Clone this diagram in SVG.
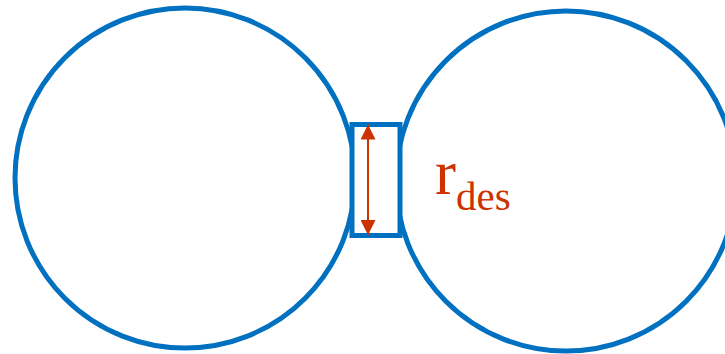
<svg xmlns="http://www.w3.org/2000/svg" width="725" height="354" viewBox="0 0 725 354">
<style>
.blue{fill:none;stroke:#0070C0;stroke-width:5}
.red{stroke:#CC3300;stroke-width:2;fill:none}
.lbl{font-family:"Liberation Serif","Times New Roman",serif;fill:#CC3300}
</style>
<defs>
<marker id="ah" viewBox="0 0 15 15" refX="15" refY="7.5" markerWidth="15" markerHeight="15" markerUnits="userSpaceOnUse" orient="auto-start-reverse">
<path d="M0,0 L15,7.5 L0,15 Z" fill="#CC3300"/>
</marker>
</defs>
<rect width="725" height="354" fill="#fff"/>
<g id="left-circle"><circle class="blue" cx="185" cy="178" r="170"/></g>
<g id="right-circle"><circle class="blue" cx="566" cy="181" r="170"/></g>
<g id="neck"><rect class="blue" x="352" y="124.5" width="48" height="111" style="fill:#fff"/></g>
<g id="connectors">
<line class="red" x1="368" y1="124.5" x2="368" y2="235" marker-start="url(#ah)" marker-end="url(#ah)"/>
</g>
<g id="label">
<text class="lbl" x="435" y="194" font-size="63">r<tspan font-size="41" y="210">des</tspan></text>
</g>
</svg>
